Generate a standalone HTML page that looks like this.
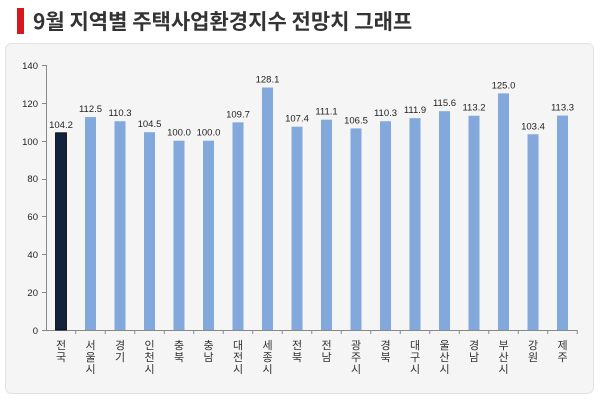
<!DOCTYPE html>
<html><head><meta charset="utf-8"><style>
body{margin:0;width:600px;height:406px;background:#fff;overflow:hidden;font-family:"Liberation Sans","Noto Sans CJK KR",sans-serif}
</style></head><body>
<svg width="600" height="406" xmlns="http://www.w3.org/2000/svg" style="position:absolute;left:0;top:0">
<rect x="17" y="8" width="7" height="26" fill="#d7191f"/>
<text x="33" y="29" font-size="21" font-weight="bold" fill="#333" font-family="Noto Sans CJK KR, sans-serif">9월 지역별 주택사업환경지수 전망치 그래프</text>
<rect x="5.5" y="43.5" width="588" height="350" rx="6" fill="#f5f5f5" stroke="#e2e2e2"/>
<g font-size="9.5" fill="#222" text-anchor="end" font-family="Liberation Sans, sans-serif">
<text x="38" y="69">140</text><text x="38" y="107">120</text><text x="38" y="145">100</text>
<text x="38" y="182">80</text><text x="38" y="220">60</text><text x="38" y="258">40</text>
<text x="38" y="296">20</text><text x="38" y="334">0</text>
</g>
<g stroke="#888" stroke-width="1">
<line x1="46.5" y1="65" x2="46.5" y2="330"/>
<line x1="46" y1="330.5" x2="577" y2="330.5"/>
<line x1="42" y1="65.5" x2="46" y2="65.5"/><line x1="42" y1="103.5" x2="46" y2="103.5"/>
<line x1="42" y1="141.5" x2="46" y2="141.5"/><line x1="42" y1="179.5" x2="46" y2="179.5"/>
<line x1="42" y1="216.5" x2="46" y2="216.5"/><line x1="42" y1="254.5" x2="46" y2="254.5"/>
<line x1="42" y1="292.5" x2="46" y2="292.5"/><line x1="42" y1="330.5" x2="46" y2="330.5"/>
</g>
<g id="bars"></g>
</svg>
<script>
var vals=[104.2,112.5,110.3,104.5,100.0,100.0,109.7,128.1,107.4,111.1,106.5,110.3,111.9,115.6,113.2,125.0,103.4,113.3];
var labs=["전국","서울시","경기","인천시","충북","충남","대전시","세종시","전북","전남","광주시","경북","대구시","울산시","경남","부산시","강원","제주"];
var g=document.getElementById('bars'),ns="http://www.w3.org/2000/svg",h="";
for(var i=0;i<18;i++){var cx=61+i*29.5,y=330-vals[i]*265/140;
h+='<rect x="'+(cx-5.5)+'" y="'+y+'" width="11" height="'+(330-y)+'" fill="'+(i==0?'#12233d':'#82a8dc')+'" '+(i==0?'stroke="#000" stroke-width="0.8"':'')+'/>';
h+='<text x="'+cx+'" y="'+(y-5)+'" font-size="9.5" fill="#222" text-anchor="middle" font-family="Liberation Sans, sans-serif">'+vals[i].toFixed(1)+'</text>';
if(i<18){var tx=cx+14.75;h+='<line x1="'+tx+'" y1="330" x2="'+tx+'" y2="334" stroke="#888"/>';}
var l=labs[i];for(var k=0;k<l.length;k++)h+='<text x="'+cx+'" y="'+(349+k*12)+'" font-size="11" fill="#333" text-anchor="middle" font-family="Noto Sans CJK KR, sans-serif">'+l[k]+'</text>';}
g.innerHTML=h;
</script>
</body></html>
